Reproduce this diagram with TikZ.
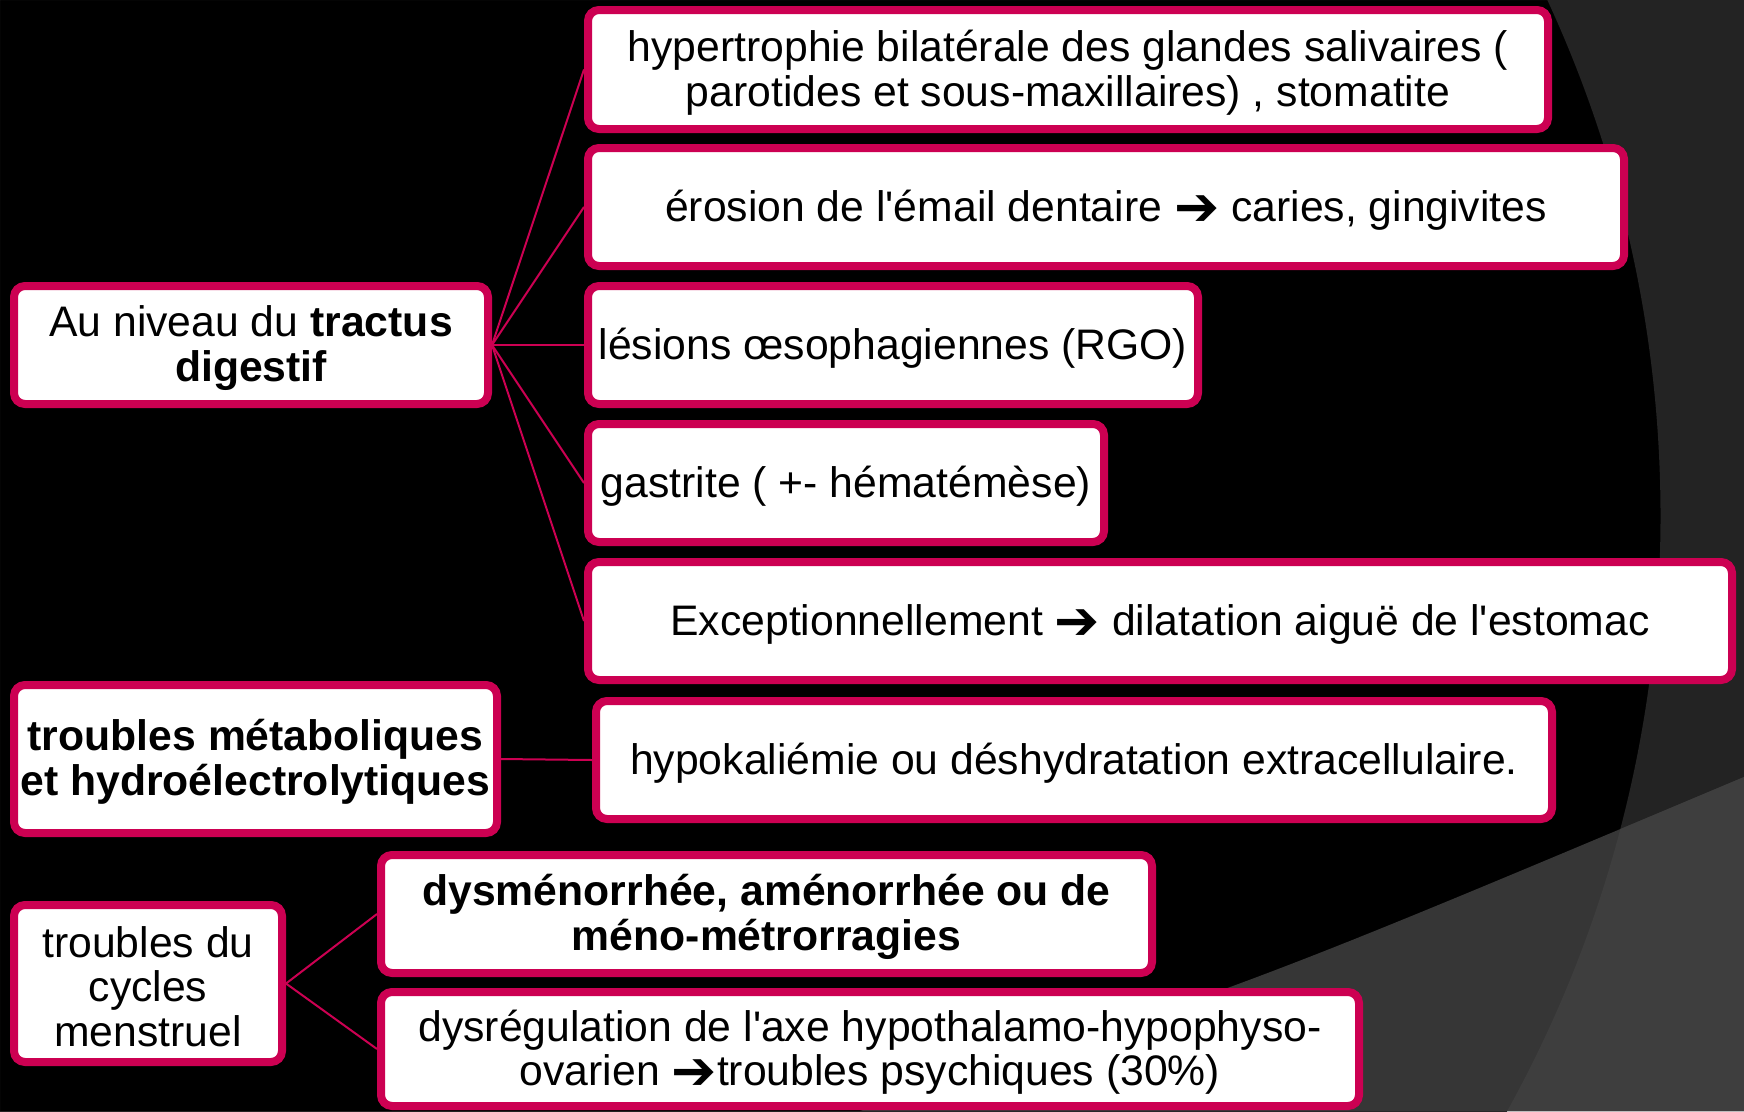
\documentclass[tikz,border=0pt]{standalone}
\usepackage{fontspec}
\usepackage{graphicx}
\newfontfamily\mainsans{Liberation Sans}
\newfontfamily\arrowfont{DejaVu Sans}
\newcommand\arr{\raisebox{-4pt}{\arrowfont\fontsize{54}{54}\selectfont ➔}}
\newcommand\fs{\mainsans\fontsize{42.7}{44.5}\selectfont}
\definecolor{crim}{RGB}{204,0,82}
\definecolor{bgA}{RGB}{35,35,35}
\definecolor{bgB}{RGB}{54,54,54}
\definecolor{bgC}{RGB}{62,62,62}
\tikzset{
  box/.style={draw=crim, line width=8pt, fill=white, rounded corners=11pt, inner sep=0pt},
  txt/.style={align=center, inner sep=0pt, font=\fs, text=black},
  conn/.style={draw=crim, line width=2pt},
}
\newcommand\mkbox[6]{\node[box, minimum width={#4-#2-8}, minimum height={#5-#3-8}]
  (#1) at ({(#2+#4)/2},{(#3+#5)/2}) {};
  \node[txt] (#1t) at ([yshift=-3pt]#1.center) {#6};}
\begin{document}
\begin{tikzpicture}[x=1pt,y=-1pt]
\useasboundingbox (0,0) rectangle (1744,1111);
% background
\fill[black] (0,0) rectangle (1744,1111);
\fill[bgA, even odd rule] (0,0) rectangle (1744,1111) (431,516) circle[radius=1229.5pt];
\fill[bgB] (860,1111) .. controls (1250,985) .. (1744,777) -- (1744,1111) -- cycle;
\begin{scope}
  \clip (860,1111) .. controls (1250,985) .. (1744,777) -- (1744,1111) -- cycle;
  \fill[bgC, even odd rule] (0,0) rectangle (1744,1111) (431,516) circle[radius=1229.5pt];
\end{scope}
% boxes
\mkbox{b1}{584}{6}{1552}{133}{hypertrophie bilatérale des glandes salivaires (\\parotides et sous-maxillaires) , stomatite}
\mkbox{b2}{584}{144}{1628}{270}{érosion de l'émail dentaire \arr{} caries, gingivites}
\mkbox{b3}{584}{282}{1202}{408}{lésions œsophagiennes (RGO)}
\mkbox{b4}{584}{420}{1108}{546}{gastrite ( +- hématémèse)}
\mkbox{b5}{584}{558}{1736}{684}{Exceptionnellement \arr{} dilatation aiguë de l'estomac}
\mkbox{l1}{10}{282}{492}{408}{Au niveau du \textbf{tractus}\\\textbf{digestif}}
\mkbox{l2}{10}{681}{501}{837}{\textbf{troubles métaboliques}\\\textbf{et hydroélectrolytiques}}
\mkbox{b6}{592}{697}{1556}{823}{hypokaliémie ou déshydratation extracellulaire.}
\mkbox{l3}{10}{901}{286}{1066}{troubles du\\cycles\\menstruel}
\mkbox{b7}{377}{851}{1156}{977}{\textbf{dysménorrhée, aménorrhée ou de}\\\textbf{méno-métrorragies}}
\mkbox{b8}{377}{988}{1363}{1110}{dysrégulation de l'axe hypothalamo-hypophyso-\\ovarien \arr{}troubles psychiques (30\%)}
% connectors
\foreach \t in {b1,b2,b3,b4,b5} \draw[conn] (l1.east) -- (\t.west);
\draw[conn] (l2.east) -- (b6.west);
\draw[conn] (l3.east) -- (b7.west);
\draw[conn] (l3.east) -- (b8.west);
\end{tikzpicture}
\end{document}
